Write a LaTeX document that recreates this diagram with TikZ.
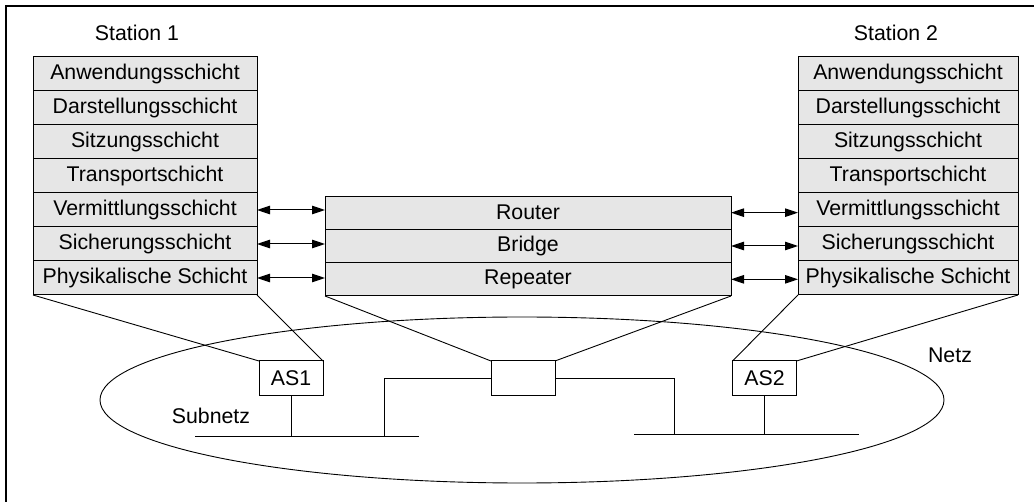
\documentclass[tikz,border=0pt]{standalone}
\usepackage{fontspec}
\setmainfont{Liberation Sans}
\usetikzlibrary{arrows.meta,shapes.geometric}
\definecolor{layerfill}{HTML}{E6E6E6}
\begin{document}
\begin{tikzpicture}[x=1pt,y=-1pt,
  every node/.style={font=\fontsize{21.3}{25}\selectfont},
  layer/.style={draw,line width=1pt,fill=layerfill,inner sep=0pt,outer sep=0pt,
                minimum height=34pt},
  lstack/.style={layer,minimum width=224pt},
  rstack/.style={layer,minimum width=220pt},
  device/.style={layer,minimum width=406pt,minimum height=33.33pt},
  sysbox/.style={draw,line width=1pt,fill=white,inner sep=0pt,outer sep=0pt,
                 minimum width=64pt,minimum height=35pt},
  link/.style={line width=0.9pt},
  peer/.style={line width=1pt,{Triangle[length=13pt,width=8.5pt]}-{Triangle[length=13pt,width=8.5pt]}},
  label/.style={inner sep=0pt}]
\useasboundingbox (0,0) rectangle (1034,502);

% frame
\draw[line width=1.3pt] (6,502) -- (6,6) -- (1034,6);

% network cloud
\node[draw,ellipse,line width=0.9pt,minimum width=844pt,minimum height=166pt,inner sep=0pt] (netz) at (522,400) {};

% station 1
\node[label] (st1) at (137,33) {Station 1};
\node[lstack] (l1) at (145,74)  {Anwendungsschicht};
\node[lstack] (l2) at (145,108) {Darstellungsschicht};
\node[lstack] (l3) at (145,142) {Sitzungsschicht};
\node[lstack] (l4) at (145,176) {Transportschicht};
\node[lstack] (l5) at (145,210) {Vermittlungsschicht};
\node[lstack] (l6) at (145,244) {Sicherungsschicht};
\node[lstack] (l7) at (145,278) {Physikalische Schicht};

% station 2
\node[label] (st2) at (896,33) {Station 2};
\node[rstack] (r1) at (908,74)  {Anwendungsschicht};
\node[rstack] (r2) at (908,108) {Darstellungsschicht};
\node[rstack] (r3) at (908,142) {Sitzungsschicht};
\node[rstack] (r4) at (908,176) {Transportschicht};
\node[rstack] (r5) at (908,210) {Vermittlungsschicht};
\node[rstack] (r6) at (908,244) {Sicherungsschicht};
\node[rstack] (r7) at (908,278) {Physikalische Schicht};

% intermediate systems
\node[device] (m1) at (528,212.67) {Router};
\node[device] (m2) at (528,246)    {Bridge};
\node[device] (m3) at (528,279.33) {Repeater};

% peer arrows
\draw[peer] (l5.east) -- (l5.east -| m1.west);
\draw[peer] (l6.east) -- (l6.east -| m2.west);
\draw[peer] (l7.east) -- (l7.east -| m3.west);
\draw[peer] (m1.east) -- (m1.east -| r5.west);
\draw[peer] (m2.east) -- (m2.east -| r6.west);
\draw[peer] (m3.east) -- (m3.east -| r7.west);

% boxes in the network
\node[sysbox] (as1) at (291,378.5) {AS1};
\node[sysbox] (hub) at (523,378.5) {};
\node[sysbox] (as2) at (764.5,378.5) {AS2};

% projections from the stacks
\draw[link] (l7.south west) -- (as1.north west);
\draw[link] (l7.south east) -- (as1.north east);
\draw[link] (m3.south west) -- (hub.north west);
\draw[link] (m3.south east) -- (hub.north east);
\draw[link] (r7.south west) -- (as2.north west);
\draw[link] (r7.south east) -- (as2.north east);

% subnet buses
\coordinate (busL1) at (195,436);
\coordinate (busL2) at (419,436);
\coordinate (jL) at (384,436);
\coordinate (busR1) at (634,434);
\coordinate (busR2) at (859,434);
\coordinate (jR) at (674,434);
\draw[link] (busL1) -- (busL2);
\draw[link] (busR1) -- (busR2);
\draw[link] (as1.south) -- (as1.south |- busL1);
\draw[link] (as2.south) -- (as2.south |- busR1);
\draw[link] (hub.west) -| (jL);
\draw[link] (hub.east) -| (jR);

% labels
\node[label] (subnetz) at (211,416) {Subnetz};
\node[label] (netzlbl) at (950,355) {Netz};
\end{tikzpicture}
\end{document}
